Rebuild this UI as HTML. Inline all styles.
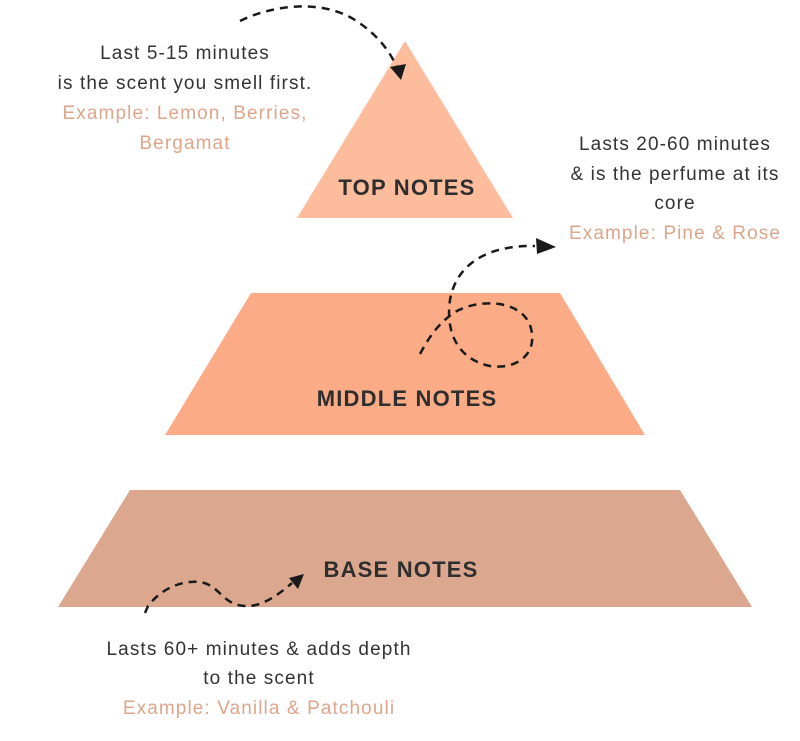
<!DOCTYPE html>
<html><head><meta charset="utf-8"><style>
html,body{margin:0;padding:0;background:#fff;}
svg{display:block}
text{font-family:"Liberation Sans",sans-serif;}
</style></head><body>
<svg width="800" height="741" viewBox="0 0 800 741" xmlns="http://www.w3.org/2000/svg">
<polygon points="405,41 513,218 297,218" fill="#fdbd9d"/>
<polygon points="251,293 560,293 645,435 165,435" fill="#fbab85"/>
<polygon points="130,490 680,490 752,607 58,607" fill="#dba78e"/>
<g font-weight="bold" font-size="22" fill="#2e2e2e" text-anchor="middle" letter-spacing="1.2">
<text x="407" y="195">TOP NOTES</text>
<text x="407" y="406">MIDDLE NOTES</text>
<text x="401" y="577">BASE NOTES</text>
</g>
<g font-size="19" text-anchor="middle" fill="#333" letter-spacing="1.1">
<text x="185" y="59">Last 5-15 minutes</text>
<text x="185" y="89">is the scent you smell first.</text>
<text x="185" y="119" fill="#dea58a">Example: Lemon, Berries,</text>
<text x="185" y="149" fill="#dea58a">Bergamat</text>
<text x="675" y="150">Lasts 20-60 minutes</text>
<text x="675" y="180">&amp; is the perfume at its</text>
<text x="675" y="209">core</text>
<text x="675" y="239" fill="#dea58a">Example: Pine &amp; Rose</text>
<text x="259" y="655">Lasts 60+ minutes &amp; adds depth</text>
<text x="259" y="684">to the scent</text>
<text x="259" y="714" fill="#dea58a">Example: Vanilla &amp; Patchouli</text>
</g>
<g fill="none" stroke="#1a1a1a" stroke-width="2.5" stroke-dasharray="8,6">
<path d="M240,21 C270,6 320,-2 355,20 C380,36 392,55 398,70"/>
<path d="M420,354 C430,335 440,322 455,312 C480,298 520,300 530,325 C540,355 515,370 490,366 C460,360 445,335 450,300 C455,270 480,245 535,246"/>
<path d="M145,613 L148,606 C160,590 180,580 200,582 C220,585 222,605 245,606 C262,607 278,595 292,583"/>
</g>
<g fill="#1a1a1a">
<polygon points="401,80 390,67 406,64"/>
<polygon points="556,247 536,238 537,254"/>
<polygon points="304,574 289,578 298,589"/>
</g>
</svg>
</body></html>
